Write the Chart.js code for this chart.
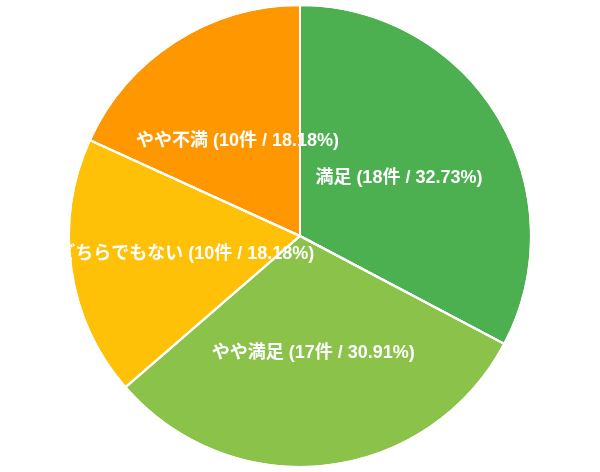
<!DOCTYPE html>
<html>
<head>
<meta charset="utf-8">
<script src="https://cdn.jsdelivr.net/npm/chart.js@4"></script>
<style>
html,body{margin:0;padding:0;background:#fff;}
#wrap{width:600px;height:472px;}
</style>
</head>
<body>
<div id="wrap"><canvas id="c"></canvas></div>
<script>
const categories = ['満足', 'やや満足', 'どちらでもない', 'やや不満'];
const counts = [18, 17, 10, 10];
const colors = ['#4CAF50', '#8BC34A', '#FFC107', '#FF9800'];

const total = counts.reduce((a, b) => a + b, 0);

const labelPlugin = {
  id: 'sliceLabels',
  afterDatasetsDraw(chart) {
    const ctx = chart.ctx;
    const meta = chart.getDatasetMeta(0);
    ctx.save();
    ctx.font = 'bold 18px "Liberation Sans", Arial, "Noto Sans CJK JP", sans-serif';
    ctx.fillStyle = '#fff';
    ctx.textAlign = 'center';
    ctx.textBaseline = 'middle';
    meta.data.forEach((arc, i) => {
      const p = arc.tooltipPosition();
      const pct = (counts[i] / total * 100).toFixed(2);
      ctx.fillText(categories[i] + ' (' + counts[i] + '件 / ' + pct + '%)', p.x, p.y + 2);
    });
    // redraw slice borders on top of the text
    ctx.strokeStyle = '#fff';
    ctx.lineWidth = 2;
    ctx.lineJoin = 'round';
    meta.data.forEach((arc) => {
      const {x, y, startAngle, endAngle, outerRadius} = arc.getProps(['x','y','startAngle','endAngle','outerRadius']);
      ctx.beginPath();
      ctx.moveTo(x, y);
      ctx.arc(x, y, outerRadius, startAngle, endAngle);
      ctx.closePath();
      ctx.stroke();
    });
    ctx.restore();
  }
};

new Chart(document.getElementById('c'), {
  type: 'pie',
  data: {
    labels: categories,
    datasets: [{
      data: counts,
      backgroundColor: colors,
      borderColor: '#fff',
      borderWidth: 2
    }]
  },
  options: {
    responsive: true,
    maintainAspectRatio: false,
    animation: false,
    layout: { padding: 4 },
    plugins: {
      legend: { display: false },
      tooltip: { enabled: false }
    }
  },
  plugins: [labelPlugin]
});
</script>
</body>
</html>
